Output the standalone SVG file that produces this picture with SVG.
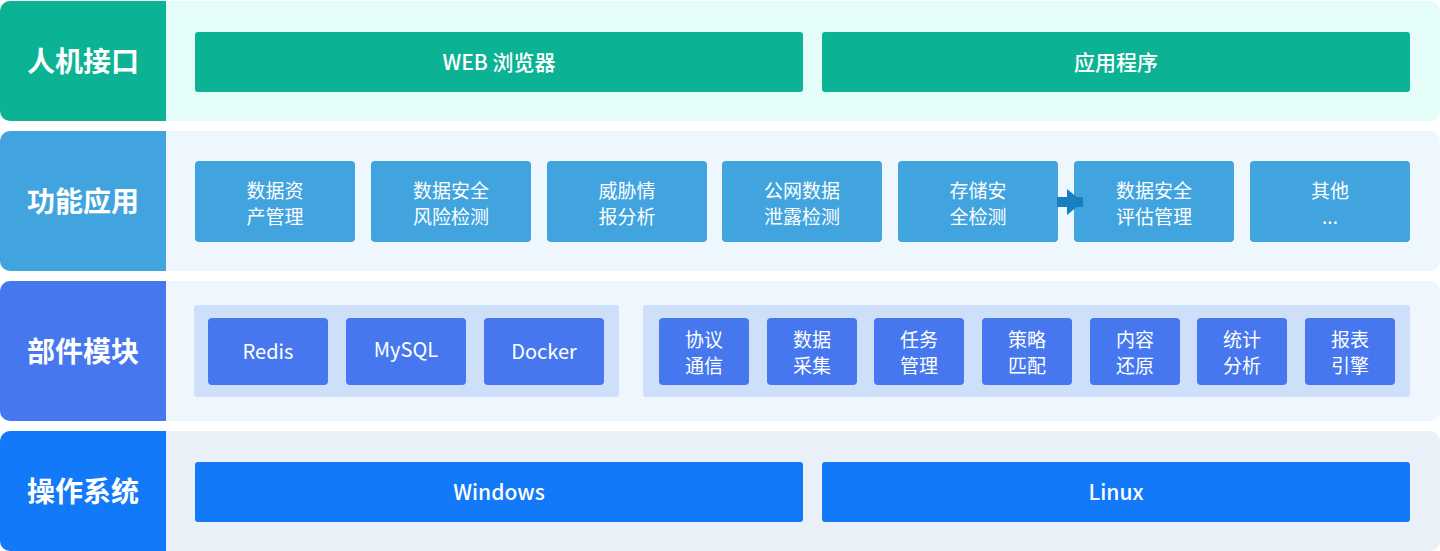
<svg xmlns="http://www.w3.org/2000/svg" width="1440" height="551" viewBox="0 0 1440 551">
<style>
text{font-family:"Noto Sans CJK SC","Noto Sans",sans-serif;fill:#fff;text-anchor:middle}
.lbl{font-size:28px;font-weight:700}
.btn{font-size:21px;font-weight:500}
.bx{font-size:19px;font-weight:400}
.bx3{font-size:20px;font-weight:400}
.bx4{font-size:19px;font-weight:400}
.g1{fill:#0bb394}.g2{fill:#41a4df}.g3{fill:#4677ef}.g4{fill:#1279f9}
.grp{fill:#cddff9}
</style>
<defs>
<marker id="ah" viewBox="0 0 16 26" refX="16" refY="13" markerWidth="16" markerHeight="26" markerUnits="userSpaceOnUse" orient="auto">
<path d="M0,0 L16,13 L0,26 Z" fill="#1a7fc1"/>
</marker>
</defs>

<g id="row-hmi">
<rect x="0" y="1" width="1440" height="120" rx="10" fill="#e4fdf9"/>
<path class="g1" d="M10,1 H166 V121 H10 A10,10 0 0 1 0,111 V11 A10,10 0 0 1 10,1 Z"/>
<text class="lbl" x="83" y="71.5">人机接口</text>
<g id="web"><rect class="g1" x="195" y="32" width="608" height="60" rx="3"/><text class="btn" x="499" y="69.5">WEB 浏览器</text></g>
<g id="app"><rect class="g1" x="822" y="32" width="588" height="60" rx="3"/><text class="btn" x="1116" y="69.5">应用程序</text></g>
</g>

<g id="row-func">
<rect x="0" y="131" width="1440" height="140" rx="10" fill="#eff7fe"/>
<path class="g2" d="M10,131 H166 V271 H10 A10,10 0 0 1 0,261 V141 A10,10 0 0 1 10,131 Z"/>
<text class="lbl" x="83" y="212">功能应用</text>
<g id="f1"><rect class="g2" x="195" y="161" width="160" height="81" rx="4"/><text class="bx" x="275" y="197.5">数据资</text><text class="bx" x="275" y="223.5">产管理</text></g>
<g id="f2"><rect class="g2" x="371" y="161" width="160" height="81" rx="4"/><text class="bx" x="451" y="197.5">数据安全</text><text class="bx" x="451" y="223.5">风险检测</text></g>
<g id="f3"><rect class="g2" x="547" y="161" width="160" height="81" rx="4"/><text class="bx" x="627" y="197.5">威胁情</text><text class="bx" x="627" y="223.5">报分析</text></g>
<g id="f4"><rect class="g2" x="722" y="161" width="160" height="81" rx="4"/><text class="bx" x="802" y="197.5">公网数据</text><text class="bx" x="802" y="223.5">泄露检测</text></g>
<g id="f5"><rect class="g2" x="898" y="161" width="160" height="81" rx="4"/><text class="bx" x="978" y="197.5">存储安</text><text class="bx" x="978" y="223.5">全检测</text></g>
<g id="f6"><rect class="g2" x="1074" y="161" width="160" height="81" rx="4"/><text class="bx" x="1154" y="197.5">数据安全</text><text class="bx" x="1154" y="223.5">评估管理</text></g>
<g id="f7"><rect class="g2" x="1250" y="161" width="160" height="81" rx="4"/><text class="bx" x="1330" y="197.5">其他</text><text class="bx" x="1330" y="223.5">...</text></g>
</g>

<g id="row-comp">
<rect x="0" y="281" width="1440" height="140" rx="10" fill="#eff6fe"/>
<path class="g3" d="M10,281 H166 V421 H10 A10,10 0 0 1 0,411 V291 A10,10 0 0 1 10,281 Z"/>
<text class="lbl" x="83" y="362">部件模块</text>
<rect class="grp" x="194" y="305" width="425" height="92" rx="3"/>
<rect class="grp" x="643" y="305" width="767" height="92" rx="3"/>
<g id="redis"><rect class="g3" x="208" y="318" width="120" height="67" rx="4"/><text class="bx3" x="268" y="358.5">Redis</text></g>
<g id="mysql"><rect class="g3" x="346" y="318" width="120" height="67" rx="4"/><text class="bx3" x="406" y="357">MySQL</text></g>
<g id="docker"><rect class="g3" x="484" y="318" width="120" height="67" rx="4"/><text class="bx3" x="544" y="359">Docker</text></g>
<g id="c1"><rect class="g3" x="659" y="318" width="90" height="67" rx="4"/><text class="bx4" x="704" y="346.5">协议</text><text class="bx4" x="704" y="372.5">通信</text></g>
<g id="c2"><rect class="g3" x="767" y="318" width="90" height="67" rx="4"/><text class="bx4" x="812" y="346.5">数据</text><text class="bx4" x="812" y="372.5">采集</text></g>
<g id="c3"><rect class="g3" x="874" y="318" width="90" height="67" rx="4"/><text class="bx4" x="919" y="346.5">任务</text><text class="bx4" x="919" y="372.5">管理</text></g>
<g id="c4"><rect class="g3" x="982" y="318" width="90" height="67" rx="4"/><text class="bx4" x="1027" y="346.5">策略</text><text class="bx4" x="1027" y="372.5">匹配</text></g>
<g id="c5"><rect class="g3" x="1090" y="318" width="90" height="67" rx="4"/><text class="bx4" x="1135" y="346.5">内容</text><text class="bx4" x="1135" y="372.5">还原</text></g>
<g id="c6"><rect class="g3" x="1197" y="318" width="90" height="67" rx="4"/><text class="bx4" x="1242" y="346.5">统计</text><text class="bx4" x="1242" y="372.5">分析</text></g>
<g id="c7"><rect class="g3" x="1305" y="318" width="90" height="67" rx="4"/><text class="bx4" x="1350" y="346.5">报表</text><text class="bx4" x="1350" y="372.5">引擎</text></g>
</g>

<g id="row-os">
<rect x="0" y="431" width="1440" height="120" rx="10" fill="#eaf0f8"/>
<path class="g4" d="M10,431 H166 V551 H10 A10,10 0 0 1 0,541 V441 A10,10 0 0 1 10,431 Z"/>
<text class="lbl" x="83" y="502">操作系统</text>
<g id="windows"><rect class="g4" x="195" y="462" width="608" height="60" rx="3"/><text class="btn" x="499" y="499.5">Windows</text></g>
<g id="linux"><rect class="g4" x="822" y="462" width="588" height="60" rx="3"/><text class="btn" x="1116" y="499.5">Linux</text></g>
</g>

<g id="connectors">
<line x1="1057" y1="202" x2="1083" y2="202" stroke="#1a7fc1" stroke-width="10" marker-end="url(#ah)"/>
</g>
</svg>
